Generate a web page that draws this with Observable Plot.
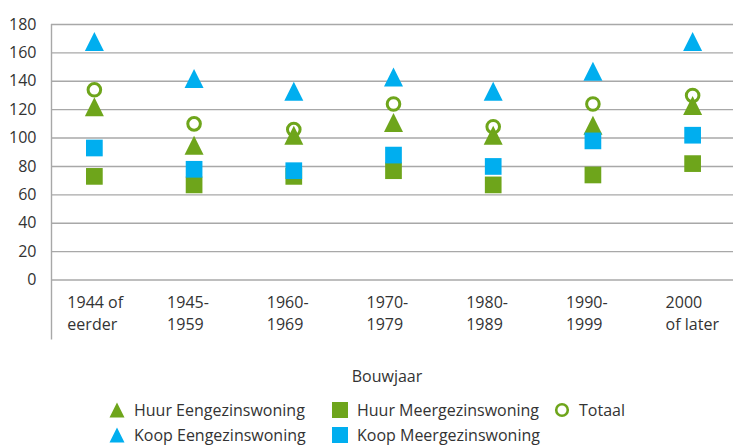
<!DOCTYPE html>
<html>
<head>
<meta charset="utf-8">
<script src="https://cdn.jsdelivr.net/npm/d3@7"></script>
<script src="https://cdn.jsdelivr.net/npm/@observablehq/plot@0.6"></script>
<style>
  body { margin: 0; background: #fff; font-family: "Open Sans", sans-serif; color: #333; }
  #wrap { position: relative; width: 733px; height: 445px; overflow: hidden; }
  #chart svg { display: block; }
  .xlabel { position: absolute; font-size: 16px; line-height: 20px; white-space: nowrap; transform: translateX(-50%); }
  .item { position: absolute; display: flex; align-items: center; height: 20px; font-size: 16px; line-height: 20px; white-space: nowrap; }
  .item svg { margin-right: 8px; flex: none; }
</style>
</head>
<body>
<div id="wrap">
  <div id="chart"></div>
  <div class="xlabel" style="left:387px; top:366px;">Bouwjaar</div>
  <div id="legend"></div>
</div>
<script>
// ---- Data ----
const categories = ["1944 of\neerder", "1945-\n1959", "1960-\n1969", "1970-\n1979", "1980-\n1989", "1990-\n1999", "2000\nof later"];
const seriesNames = ["Huur Eengezinswoning", "Huur Meergezinswoning", "Totaal", "Koop Eengezinswoning", "Koop Meergezinswoning"];
const huurEengezinswoning  = [122, 95, 102, 111, 102, 109, 123];
const huurMeergezinswoning = [73, 67, 73, 77, 67, 74, 82];
const totaal               = [134, 110, 106, 124, 108, 124, 130];
const koopEengezinswoning  = [168, 142, 133, 143, 133, 147, 168];
const koopMeergezinswoning = [93, 78, 77, 88, 80, 98, 102];
const yTicks = [0, 20, 40, 60, 80, 100, 120, 140, 160, 180];

// ---- Style ----
const GREEN = "#6ea51b";
const BLUE = "#00aeef";
const GRID = "#a8a8a8";
const TEXT = "#333333";

// Excel-like symbols (centered on bounding box)
const triangle = {
  draw(ctx, size) {
    const s = Math.sqrt(size);
    ctx.moveTo(0, -s / 2);
    ctx.lineTo(s / 2, s / 2);
    ctx.lineTo(-s / 2, s / 2);
    ctx.closePath();
  }
};
const square = {
  draw(ctx, size) {
    const s = Math.sqrt(size);
    ctx.rect(-s / 2, -s / 2, s, s);
  }
};
const rFor = (side) => side / Math.sqrt(Math.PI);

const xDomain = [-0.43, 6.41];
const idx = (d, i) => i;

const chart = Plot.plot({
  width: 733,
  height: 350,
  marginTop: 24,
  marginBottom: 70.5,
  marginLeft: 51,
  marginRight: 0,
  style: { fontFamily: "'Open Sans', sans-serif", fontSize: "16px", color: TEXT, background: "#fff" },
  x: { type: "linear", domain: xDomain, axis: null },
  y: { domain: [0, 180], ticks: yTicks, tickSize: 0, tickPadding: 15, label: null },
  marks: [
    Plot.ruleY(yTicks, { stroke: GRID, strokeWidth: 1.4 }),
    Plot.ruleX([xDomain[0]], { stroke: GRID, strokeWidth: 1.4, insetBottom: -60 }),
    Plot.text(categories, {
      x: idx, frameAnchor: "bottom", lineAnchor: "top", textAnchor: "start",
      dx: -27, dy: 12.5, lineHeight: 1.38, fontSize: 16, fill: TEXT
    }),
    Plot.dot(huurEengezinswoning, { x: idx, y: d => d, symbol: triangle, r: rFor(19), fill: GREEN }),
    Plot.dot(huurMeergezinswoning, { x: idx, y: d => d, symbol: square, r: rFor(16.7), fill: GREEN }),
    Plot.dot(totaal, { x: idx, y: d => d, r: 6.3, stroke: GREEN, strokeWidth: 3, fill: "none" }),
    Plot.dot(koopEengezinswoning, { x: idx, y: d => d, symbol: triangle, r: rFor(19), fill: BLUE }),
    Plot.dot(koopMeergezinswoning, { x: idx, y: d => d, symbol: square, r: rFor(16.7), fill: BLUE })
  ]
});
document.getElementById("chart").appendChild(chart);

// ---- Legend (HTML below the SVG) ----
const legendKinds = [
  { shape: "tri", color: GREEN },
  { shape: "sq", color: GREEN },
  { shape: "circ", color: GREEN },
  { shape: "tri", color: BLUE },
  { shape: "sq", color: BLUE }
];
const colText = [134, 357, 579];
const rowTop = [400, 425];
const legend = document.getElementById("legend");
seriesNames.forEach((name, i) => {
  const k = legendKinds[i];
  const col = i % 3, row = Math.floor(i / 3);
  const div = document.createElement("div");
  div.className = "item";
  div.style.left = (colText[col] - 26) + "px";
  div.style.top = rowTop[row] + "px";
  let icon;
  if (k.shape === "tri") icon = `<polygon points="9,1.5 16.5,16.5 1.5,16.5" fill="${k.color}"/>`;
  else if (k.shape === "sq") icon = `<rect x="1" y="1" width="16" height="16" fill="${k.color}"/>`;
  else icon = `<circle cx="9" cy="9" r="5.8" fill="none" stroke="${k.color}" stroke-width="2.6"/>`;
  div.innerHTML = `<svg width="18" height="18" viewBox="0 0 18 18">${icon}</svg><span>${name}</span>`;
  legend.appendChild(div);
});
</script>
</body>
</html>
